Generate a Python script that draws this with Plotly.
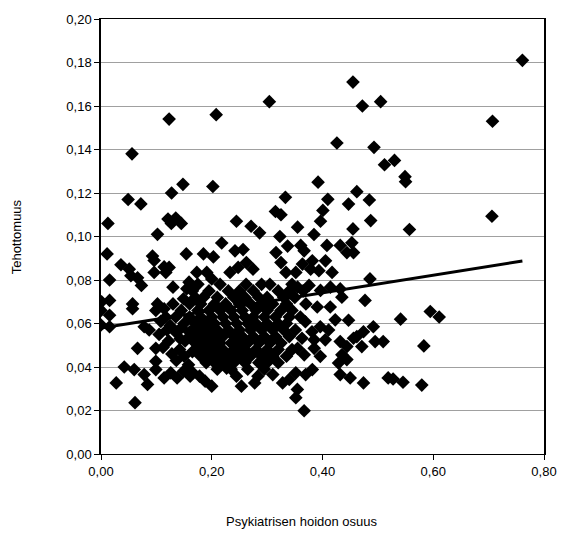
import numpy as np
import plotly.graph_objects as go

# ---- data ----
x_outer = [0.761, 0.707, 0.530, 0.549, 0.056, 0.123, 0.208, 0.455, 0.304, 0.472, 0.505, 0.426, 0.493,
           0.512, 0.392, 0.148, 0.1275, 0.049, 0.072, 0.0125, 0.121, 0.135, 0.145, 0.127, 0.102, 0.011,
           0.154, 0.093, 0.096, 0.036, 0.051, 0.054, 0.066, 0.114, 0.123, 0.117, 0.096, 0.0155, 0.073,
           0.130, 0.155, 0.159, 0.001, 0.0155, 0.057, 0.102, 0.114, 0.149]
y_outer = [0.181, 0.153, 0.135, 0.1275, 0.138, 0.154, 0.156, 0.171, 0.162, 0.160, 0.162, 0.143, 0.141,
           0.133, 0.125, 0.124, 0.120, 0.117, 0.115, 0.106, 0.108, 0.1085, 0.106, 0.106, 0.101, 0.092,
           0.092, 0.091, 0.089, 0.087, 0.085, 0.082, 0.081, 0.086, 0.0858, 0.0835, 0.0835, 0.080, 0.0775,
           0.0767, 0.076, 0.079, 0.070, 0.0706, 0.069, 0.069, 0.0668, 0.0714]

x_mid = [0.202, 0.333, 0.315, 0.325, 0.2446, 0.271, 0.2864, 0.323, 0.218, 0.242, 0.2566, 0.185, 0.203,
         0.316, 0.337, 0.2625, 0.2745, 0.233, 0.2477, 0.173, 0.191, 0.200, 0.325, 0.334,
         0.462, 0.4096, 0.447, 0.4846, 0.4007, 0.3964, 0.487, 0.355, 0.455, 0.3846, 0.3607, 0.3668,
         0.408, 0.432, 0.453, 0.456, 0.444, 0.3638, 0.3816, 0.4054, 0.4173, 0.3786, 0.3935, 0.3518,
         0.4857, 0.355, 0.3757, 0.3964, 0.4143, 0.432, 0.435, 0.3905, 0.414, 0.4768,
         0.550, 0.557, 0.706, 0.5946, 0.6107, 0.541, 0.583, 0.5275, 0.5454, 0.5793]
y_mid = [0.123, 0.118, 0.1115, 0.110, 0.107, 0.1047, 0.1017, 0.100, 0.097, 0.0934, 0.094, 0.092, 0.0906,
         0.0926, 0.0956, 0.088, 0.085, 0.0835, 0.0858, 0.0835, 0.0835, 0.0805, 0.088, 0.0835,
         0.1206, 0.1171, 0.1149, 0.1168, 0.112, 0.107, 0.1073, 0.1043, 0.1035, 0.1009, 0.0959, 0.0934,
         0.0959, 0.0959, 0.0971, 0.0926, 0.0926, 0.0873, 0.0888, 0.0888, 0.0835, 0.085, 0.0843, 0.0835,
         0.0805, 0.0767, 0.0775, 0.0752, 0.0767, 0.0759, 0.0721, 0.0676, 0.0676, 0.0706,
         0.1252, 0.1032, 0.1093, 0.0655, 0.063, 0.062, 0.0497, 0.0345, 0.033, 0.0317]

x_low = [0.447, 0.4918, 0.474, 0.462, 0.495, 0.5096, 0.432, 0.444, 0.471, 0.456, 0.435, 0.444, 0.429,
         0.432, 0.450, 0.474, 0.5186, 0.3518, 0.3696, 0.3816, 0.3546, 0.3518, 0.3668,
         0.351, 0.369, 0.381, 0.396, 0.411, 0.423, 0.363, 0.385, 0.405, 0.355, 0.367, 0.385, 0.396,
         0.0, 0.0155, 0.057, 0.0, 0.0155, 0.099, 0.117, 0.078, 0.087, 0.119, 0.135, 0.143, 0.152,
         0.066, 0.099, 0.042, 0.060, 0.078, 0.084, 0.099, 0.099, 0.114, 0.126, 0.1375, 0.149, 0.161,
         0.0275, 0.0614,
         0.200, 0.188, 0.178, 0.166, 0.2446, 0.2536, 0.2834, 0.2775, 0.3102, 0.328, 0.340, 0.2268,
         0.105, 0.112, 0.122, 0.128, 0.136, 0.142, 0.150, 0.158, 0.165, 0.108, 0.125, 0.145, 0.160]
y_low = [0.0615, 0.0585, 0.0562, 0.054, 0.0517, 0.0517, 0.0517, 0.0494, 0.0494, 0.0532, 0.0456, 0.0434, 0.0418,
         0.0365, 0.035, 0.0327, 0.035, 0.0373, 0.0365, 0.0388, 0.0297, 0.0259, 0.0199,
         0.057, 0.0608, 0.0562, 0.0585, 0.057, 0.0617, 0.0532, 0.0525, 0.0525, 0.0486, 0.0456, 0.0486, 0.0449,
         0.066, 0.0638, 0.0668, 0.0593, 0.0585, 0.066, 0.063, 0.0585, 0.057, 0.057, 0.056, 0.053, 0.052,
         0.0486, 0.0486, 0.040, 0.0388, 0.0365, 0.032, 0.0426, 0.0388, 0.035, 0.0373, 0.035, 0.038, 0.0358,
         0.0327, 0.0236,
         0.0312, 0.0335, 0.0358, 0.0373, 0.0358, 0.0312, 0.0358, 0.0327, 0.0365, 0.0327, 0.0343, 0.0395,
         0.055, 0.049, 0.052, 0.046, 0.043, 0.048, 0.045, 0.041, 0.047, 0.061, 0.059, 0.058, 0.056]

# dense core, row by row
core_rows_y = [0.078, 0.075, 0.072, 0.069, 0.066, 0.063, 0.060, 0.057, 0.054, 0.051, 0.048, 0.045, 0.042, 0.039]
core_rows_x = [
    [0.175, 0.215, 0.262, 0.290, 0.305, 0.345],
    [0.165, 0.195, 0.230, 0.250, 0.275, 0.320, 0.340, 0.365],
    [0.170, 0.185, 0.210, 0.240, 0.260, 0.285, 0.300, 0.330, 0.350],
    [0.130, 0.160, 0.180, 0.205, 0.225, 0.250, 0.270, 0.290, 0.310, 0.335, 0.370],
    [0.145, 0.175, 0.195, 0.215, 0.235, 0.255, 0.280, 0.300, 0.325, 0.345],
    [0.135, 0.160, 0.180, 0.200, 0.220, 0.240, 0.260, 0.275, 0.295, 0.315, 0.340, 0.360],
    [0.150, 0.170, 0.190, 0.205, 0.225, 0.245, 0.265, 0.280, 0.300, 0.320, 0.335],
    [0.165, 0.180, 0.195, 0.210, 0.230, 0.250, 0.270, 0.290, 0.310, 0.330],
    [0.160, 0.175, 0.190, 0.205, 0.220, 0.240, 0.255, 0.275, 0.295, 0.315, 0.340],
    [0.170, 0.185, 0.200, 0.215, 0.235, 0.250, 0.265, 0.285, 0.305, 0.325],
    [0.175, 0.190, 0.205, 0.220, 0.240, 0.260, 0.280, 0.300, 0.320, 0.345],
    [0.180, 0.195, 0.210, 0.230, 0.250, 0.270, 0.290, 0.310, 0.335],
    [0.190, 0.205, 0.220, 0.240, 0.260, 0.285, 0.300, 0.320],
    [0.210, 0.235, 0.265, 0.295],
]

x_all = list(x_outer) + list(x_mid) + list(x_low)
y_all = list(y_outer) + list(y_mid) + list(y_low)
for yy, xs in zip(core_rows_y, core_rows_x):
    x_all += xs
    y_all += [yy] * len(xs)

x_arr = np.array(x_all)
y_arr = np.array(y_all)
slope, intercept = np.polyfit(x_arr, y_arr, 1)
trend_x = np.array([0.0, x_arr.max()])
trend_y = intercept + slope * trend_x

y_ticks = [0.00, 0.02, 0.04, 0.06, 0.08, 0.10, 0.12, 0.14, 0.16, 0.18, 0.20]
x_ticks = [0.00, 0.20, 0.40, 0.60, 0.80]

font = "Liberation Sans, Arial, sans-serif"

fig = go.Figure()
fig.add_trace(go.Scatter(
    x=x_arr, y=y_arr, mode="markers",
    marker=dict(symbol="diamond", size=10.5, color="black", line=dict(width=0)),
    showlegend=False, hoverinfo="x+y"))
fig.add_trace(go.Scatter(
    x=trend_x, y=trend_y, mode="lines",
    line=dict(color="black", width=3), showlegend=False))

fig.update_layout(
    width=569, height=543,
    margin=dict(l=101, r=20, t=14, b=89),
    paper_bgcolor="white", plot_bgcolor="white",
    separators=", ",
    font=dict(family=font, size=13, color="black"),
    xaxis=dict(range=[0, 0.8], tickvals=x_ticks, tickformat=".2f",
               showgrid=False, zeroline=False, showline=True, linecolor="black", linewidth=1.2,
               mirror=True, ticks="outside", ticklen=5, tickcolor="black"),
    yaxis=dict(range=[0, 0.2], tickvals=y_ticks, tickformat=".2f",
               showgrid=True, gridcolor="#a0a0a0", gridwidth=1.3, zeroline=False,
               showline=True, linecolor="black", linewidth=1.5, mirror=True,
               ticks="outside", ticklen=5, tickcolor="black"),
    annotations=[
        dict(text="Psykiatrisen hoidon osuus", xref="paper", yref="paper", x=0.453, y=-0.155,
             showarrow=False, xanchor="center", yanchor="middle", font=dict(size=13)),
        dict(text="Tehottomuus", xref="paper", yref="paper", x=-0.19, y=0.5, textangle=-90,
             showarrow=False, xanchor="center", yanchor="middle", font=dict(size=13)),
    ],
)

fig.write_html("out.html",
               config={"displayModeBar": False},
               post_script="document.body.style.margin='0';document.body.style.padding='0';")
